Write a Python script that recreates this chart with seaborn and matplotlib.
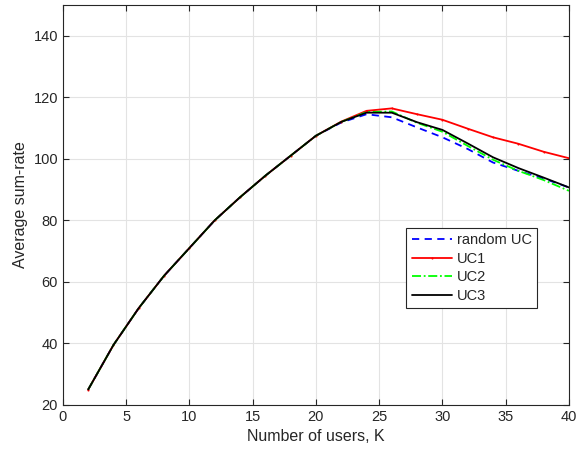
import numpy as np
import pandas as pd
import matplotlib
matplotlib.use("Agg")
import matplotlib.pyplot as plt
import seaborn as sns

K = [2, 4, 6, 8, 10, 12, 14, 16, 18, 20, 22, 24, 26, 28, 30, 32, 34, 36, 38, 40]
random_uc = [25, 39.5, 51.5, 62, 71, 80, 87.5, 94.5, 101, 107.5, 111.8, 114.5, 113.5, 110.2, 107.0, 103.2, 98.8, 96.1, 93.6, 90.7]
uc1 = [25, 39.5, 51.5, 62, 71, 80, 87.5, 94.5, 101, 107.5, 112.1, 115.6, 116.4, 114.5, 112.7, 109.8, 107.0, 104.9, 102.3, 100.2]
uc2 = [25, 39.5, 51.5, 62, 71, 80, 87.5, 94.5, 101, 107.5, 112.0, 115.2, 115.4, 111.7, 108.8, 104.2, 99.7, 96.1, 93.1, 89.6]
uc3 = [25, 39.5, 51.5, 62, 71, 80, 87.5, 94.5, 101, 107.5, 112.0, 115.0, 115.0, 111.9, 109.4, 105.0, 100.5, 97.0, 93.9, 90.7]
names = ["random UC", "UC1", "UC2", "UC3"]

sns.set_theme(style="white")
plt.rcParams['font.family'] = ['Liberation Sans', 'DejaVu Sans']

fig = plt.figure(figsize=(5.77, 4.57), dpi=100)
ax = fig.add_axes([0.109, 0.114, 0.877, 0.875])

series = [random_uc, uc1, uc2, uc3]
colors = ["#0000ff", "#ff0000", "#00ff00", "#000000"]
styles = [(0, (4, 3)), "-", (0, (5, 1.5, 1, 1.5)), "-"]
markers = [None, ".", None, None]
for name, vals, c, ls, m in zip(names, series, colors, styles, markers):
    df = pd.DataFrame({"K": K, "v": vals})
    sns.lineplot(data=df, x="K", y="v", ax=ax, color=c, linestyle=ls, linewidth=1.3,
                 marker=m, markersize=3, markeredgewidth=0, label=name)

ax.set_xlim(0, 40)
ax.set_ylim(20, 150)
ax.set_xticks(np.arange(0, 41, 5))
ax.set_yticks(np.arange(20, 141, 20))
ax.grid(True, color="#e3e3e3", linewidth=0.8)
ax.tick_params(direction="in", length=4, width=0.8, labelsize=10.5, colors="#262626",
               top=True, right=True, bottom=True, left=True, labeltop=False, labelright=False)
for s in ax.spines.values():
    s.set_color("#262626")
    s.set_linewidth(0.8)
ax.set_xlabel("Number of users, K", fontsize=11.5, color="#262626")
ax.set_ylabel("Average sum-rate", fontsize=11.5, color="#262626")
leg = ax.legend(loc="upper left", bbox_to_anchor=(0.679, 0.443), borderaxespad=0,
                fontsize=10.5, frameon=True, fancybox=False, framealpha=1, edgecolor="#262626",
                borderpad=0.35, labelspacing=0.33, handlelength=2.8, handletextpad=0.3)
leg.get_frame().set_linewidth(0.8)

fig.savefig("out.png", dpi=100)
